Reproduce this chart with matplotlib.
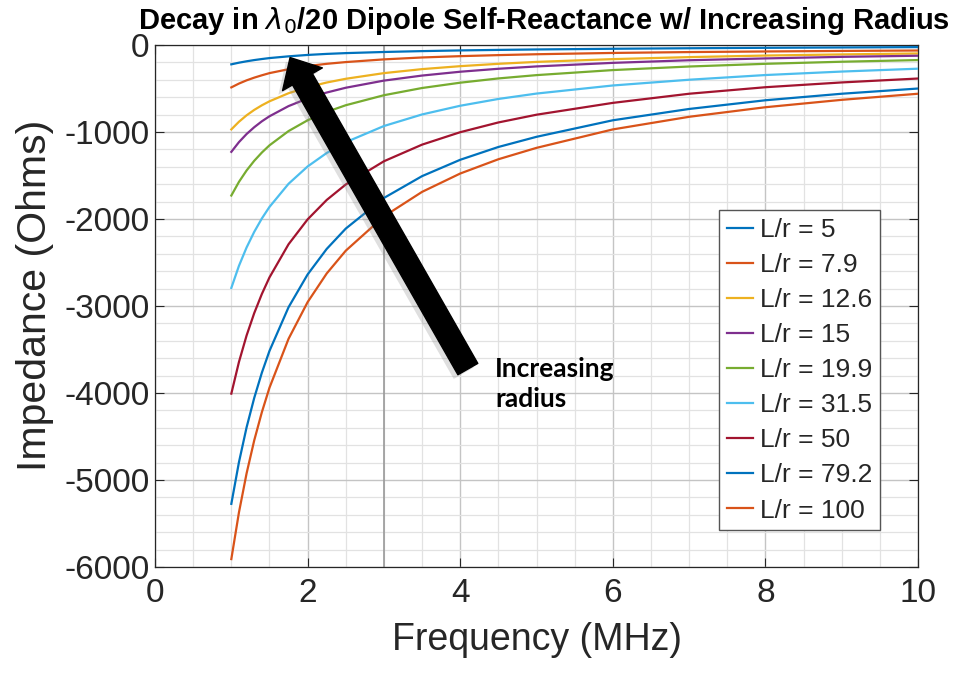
import numpy as np
import matplotlib
matplotlib.use("Agg")
import matplotlib.pyplot as plt
import matplotlib.patheffects as pe
from matplotlib.ticker import MultipleLocator

# frequency samples (MHz) and self-reactance (Ohms)
freq = [1, 1.1, 1.2, 1.3, 1.4, 1.5, 1.75, 2, 2.25, 2.5, 3, 3.5, 4, 4.5, 5, 6, 7, 8, 9, 10]
x_lr5 = [-222, -203, -187, -173, -161, -150, -130, -114, -102, -93, -80, -70, -62, -56, -51, -43, -37, -32, -28, -24]
x_lr7_9 = [-487, -443, -406, -375, -348, -323, -278, -242, -216, -196, -165, -143, -128, -116, -106, -91, -81, -74, -68, -63]
x_lr12_6 = [-970, -882, -808, -746, -693, -647, -554, -485, -431, -388, -323, -277, -243, -216, -194, -162, -139, -121, -108, -97]
x_lr15 = [-1228, -1116, -1023, -945, -877, -819, -702, -614, -546, -491, -409, -351, -307, -273, -246, -205, -175, -154, -136, -123]
x_lr19_9 = [-1730, -1573, -1442, -1331, -1236, -1153, -989, -865, -769, -692, -577, -494, -433, -384, -346, -288, -247, -216, -192, -173]
x_lr31_5 = [-2792, -2538, -2327, -2148, -1994, -1861, -1595, -1396, -1241, -1117, -931, -798, -698, -620, -558, -465, -399, -345, -305, -272]
x_lr50 = [-4007, -3643, -3339, -3082, -2862, -2671, -2290, -2004, -1781, -1603, -1336, -1145, -1002, -890, -801, -665, -560, -485, -430, -385]
x_lr79_2 = [-5274, -4795, -4395, -4057, -3767, -3516, -3014, -2637, -2344, -2110, -1758, -1507, -1319, -1172, -1055, -865, -735, -635, -560, -500]
x_lr100 = [-5909, -5372, -4924, -4545, -4221, -3939, -3377, -2955, -2626, -2364, -1970, -1688, -1477, -1313, -1182, -970, -825, -715, -630, -560]

series = [x_lr5, x_lr7_9, x_lr12_6, x_lr15, x_lr19_9, x_lr31_5, x_lr50, x_lr79_2, x_lr100]
labels = ["L/r = 5", "L/r = 7.9", "L/r = 12.6", "L/r = 15", "L/r = 19.9",
          "L/r = 31.5", "L/r = 50", "L/r = 79.2", "L/r = 100"]
colors = ["#0072BD", "#D95319", "#EDB120", "#7E2F8E", "#77AC30",
          "#4DBEEE", "#A2142F", "#0072BD", "#D95319"]

marker_freq = 3  # darker vertical reference line
arrow_tail = (4.10, -3725)
arrow_tip = (1.77, -144)

plt.rcParams["font.family"] = ["Liberation Sans", "DejaVu Sans"]
plt.rcParams["axes.unicode_minus"] = False

fig = plt.figure(figsize=(9.54, 6.73), dpi=100)
ax = fig.add_axes([0.1625, 0.1575, 0.7998, 0.7756])

for ys, lab, c in zip(series, labels, colors):
    ax.plot(freq, ys, color=c, lw=1.6, label=lab, zorder=3)

ax.axvline(marker_freq, color="#999999", lw=1.2, zorder=2)

ax.set_xlim(0, 10)
ax.set_ylim(-6000, 0)
ax.xaxis.set_major_locator(MultipleLocator(2))
ax.xaxis.set_minor_locator(MultipleLocator(0.5))
ax.yaxis.set_major_locator(MultipleLocator(1000))
ax.yaxis.set_minor_locator(MultipleLocator(200))
ax.grid(which="major", color="#c4c4c4", lw=1.0, zorder=0)
ax.grid(which="minor", color="#e2e2e2", lw=0.9, zorder=0)
ax.tick_params(which="major", direction="in", length=6.5, width=0.8, top=True, right=True,
               labelsize=24, colors="#262626")
ax.tick_params(axis="x", pad=8)
ax.tick_params(axis="y", pad=4)
ax.tick_params(which="minor", length=0, top=True, right=True)
for s in ax.spines.values():
    s.set_color("#262626")
    s.set_linewidth(0.9)

ax.set_xlabel("Frequency (MHz)", fontsize=27, color="#262626", labelpad=9)
ax.set_ylabel("Impedance (Ohms)", fontsize=29.5, color="#262626")
ax.yaxis.set_label_coords(-0.133, 0.52)

ax.text(0.51, 1.031, r"Decay in $\lambda_0$/20 Dipole Self-Reactance w/ Increasing Radius",
        transform=ax.transAxes, ha="center", va="baseline", fontsize=21, fontweight="bold",
        family=["Liberation Sans Narrow", "Liberation Sans", "DejaVu Sans"])

leg = ax.legend(loc="lower right", bbox_to_anchor=(0.95, 0.07), borderaxespad=0,
                fontsize=19, handlelength=1.0, handletextpad=0.25, labelspacing=0.42,
                fancybox=False, framealpha=1, edgecolor="#555555", borderpad=0.3)
leg.get_frame().set_linewidth(1.0)
for t in leg.get_texts():
    t.set_color("#262626")

ann = ax.annotate("", xy=arrow_tip, xytext=arrow_tail,
                  arrowprops=dict(arrowstyle="simple,head_length=1.8,head_width=3.3,tail_width=1.65",
                                  color="black", shrinkA=0, shrinkB=0, mutation_scale=10),
                  zorder=5)
ann.arrow_patch.set_path_effects([pe.SimplePatchShadow(offset=(-3, -3), shadow_rgbFace="gray", alpha=0.25),
                                  pe.Normal()])

ax.text(4.456, -3590, "Increasing\nradius", ha="left", va="top", fontsize=19,
        fontweight="bold", family=["Lato", "DejaVu Sans"], linespacing=1.3, zorder=6)

fig.savefig("out.png", dpi=100)
